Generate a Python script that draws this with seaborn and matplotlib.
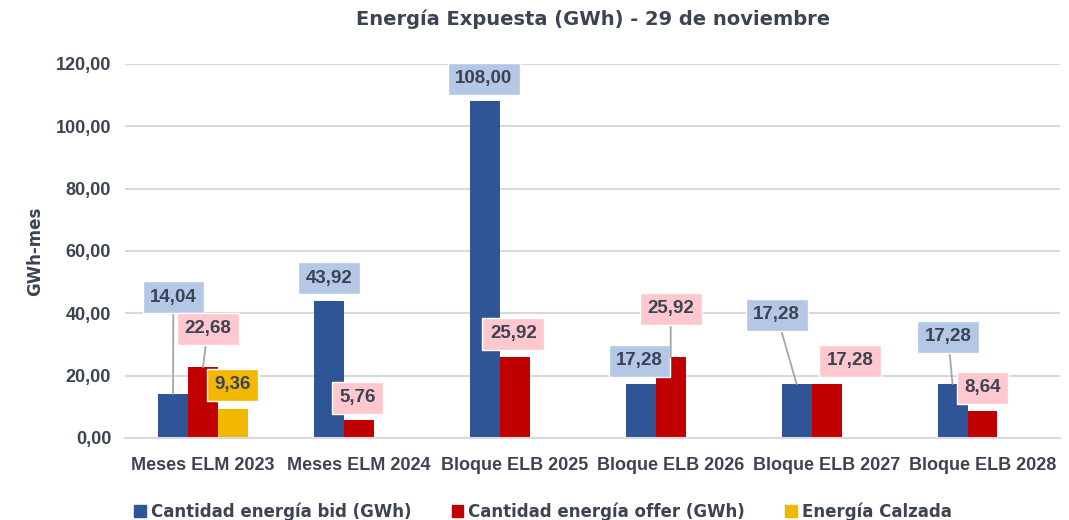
import pandas as pd
import numpy as np
import matplotlib.pyplot as plt
import seaborn as sns
from matplotlib.patches import Patch

# ==============================
# Data
# ==============================
categorias = ["Meses ELM 2023", "Meses ELM 2024", "Bloque ELB 2025",
              "Bloque ELB 2026", "Bloque ELB 2027", "Bloque ELB 2028"]
bid = [14.04, 43.92, 108.00, 17.28, 17.28, 17.28]
offer = [22.68, 5.76, 25.92, 25.92, 17.28, 8.64]
calzada = [9.36, 0, 0, 0, 0, 0]
series = ["Cantidad energía bid (GWh)", "Cantidad energía offer (GWh)", "Energía Calzada"]
y_ticks = [0, 20, 40, 60, 80, 100, 120]

# ==============================
# Layout / style
# ==============================
colores = ["#2F5597", "#C00000", "#F2B800"]
caja = ["#B4C7E7", "#FFC7CE", "#F2B800"]
texto = "#3C4353"
ancho = 0.577

# label box centres (x offset from category, y in data units); None = no label
pos_bid = [(-0.19, 45.2), (-0.19, 51.3), (-0.20, 115.2), (-0.20, 24.7), (-0.32, 39.5), (-0.22, 32.4)]
pos_offer = [(0.03, 35.0), (-0.01, 12.8), (-0.01, 33.4), (0.0, 41.4), (0.15, 24.7), (0.0, 16.0)]
pos_calz = [(0.19, 17.0), None, None, None, None, None]
leader_bid = [True, False, False, False, True, True]
leader_offer = [True, False, False, True, False, False]

df = pd.DataFrame({
    "cat": categorias * 3,
    "serie": [s for s in series for _ in categorias],
    "valor": bid + offer + calzada,
})

sns.set_style("white")
plt.rcParams["font.family"] = ["DejaVu Sans"]

fig = plt.figure(figsize=(10.69, 5.20), dpi=100)
ax = fig.add_axes([0.117, 0.158, 0.875, 0.719])

sns.barplot(data=df, x="cat", y="valor", hue="serie", hue_order=series,
            palette=colores, saturation=1, width=ancho, gap=0, linewidth=0,
            ax=ax, legend=False, errorbar=None)

ax.set_ylim(0, 120)
ax.set_xlim(-0.5, 5.5)
ax.set_yticks(y_ticks)
ax.set_yticklabels([f"{v:.2f}".replace(".", ",") for v in y_ticks])
ax.yaxis.grid(True, color="#D9D9D9", lw=1.5)
ax.set_axisbelow(True)
ax.tick_params(axis="y", length=0, pad=10)

ax.set_xticks(range(len(categorias)))
ax.set_xticklabels(categorias)
ax.set_xticks(np.arange(-0.5, 6, 1), minor=True)
ax.tick_params(axis="x", which="major", length=0, pad=14)
ax.tick_params(axis="x", which="minor", length=6, color="#D9D9D9", width=1.5)

for t in ax.get_xticklabels() + ax.get_yticklabels():
    t.set_family("Liberation Sans")
    t.set_fontweight("bold")
    t.set_fontsize(13)
    t.set_color(texto)

for s in ["top", "right", "left"]:
    ax.spines[s].set_visible(False)
ax.spines["bottom"].set_color("#D9D9D9")
ax.spines["bottom"].set_linewidth(1.5)

ax.set_xlabel("")
ax.set_ylabel("GWh-mes", family="DejaVu Sans", weight="bold", fontsize=12,
              color=texto, labelpad=8)

ax.set_title("Energía Expuesta (GWh) - 29 de noviembre", fontsize=14,
             weight="bold", color=texto, pad=28)

# ==============================
# Data labels
# ==============================
sep = ancho / 3


def etiqueta(valor, i, k, pos, leader):
    if pos is None:
        return
    bx = i + (k - 1) * sep
    kw = dict(ha="center", va="center", fontsize=13.5, weight="bold",
              family="Liberation Sans", color=texto, annotation_clip=False,
              bbox=dict(boxstyle="square,pad=0.4", fc=caja[k], ec="white", lw=1))
    if leader:
        kw["arrowprops"] = dict(arrowstyle="-", color="#A6A6A6", lw=1.3,
                                shrinkA=0, shrinkB=0)
    ax.annotate(f"{valor:.2f}".replace(".", ","), xy=(bx, valor),
                xytext=(i + pos[0], pos[1]), textcoords="data", **kw)


for i in range(len(categorias)):
    etiqueta(bid[i], i, 0, pos_bid[i], leader_bid[i])
    etiqueta(offer[i], i, 1, pos_offer[i], leader_offer[i])
    etiqueta(calzada[i], i, 2, pos_calz[i], False)

# ==============================
# Legend
# ==============================
handles = [Patch(color=c, label=s) for c, s in zip(colores, series)]
leg = fig.legend(handles=handles, loc="lower center", bbox_to_anchor=(0.508, -0.03),
                 ncol=3, frameon=False, fontsize=12, labelcolor=texto,
                 handlelength=0.7, handleheight=0.7, handletextpad=0.3,
                 columnspacing=2.4)
for t in leg.get_texts():
    t.set_fontweight("semibold")

plt.savefig("out.png", dpi=100)
